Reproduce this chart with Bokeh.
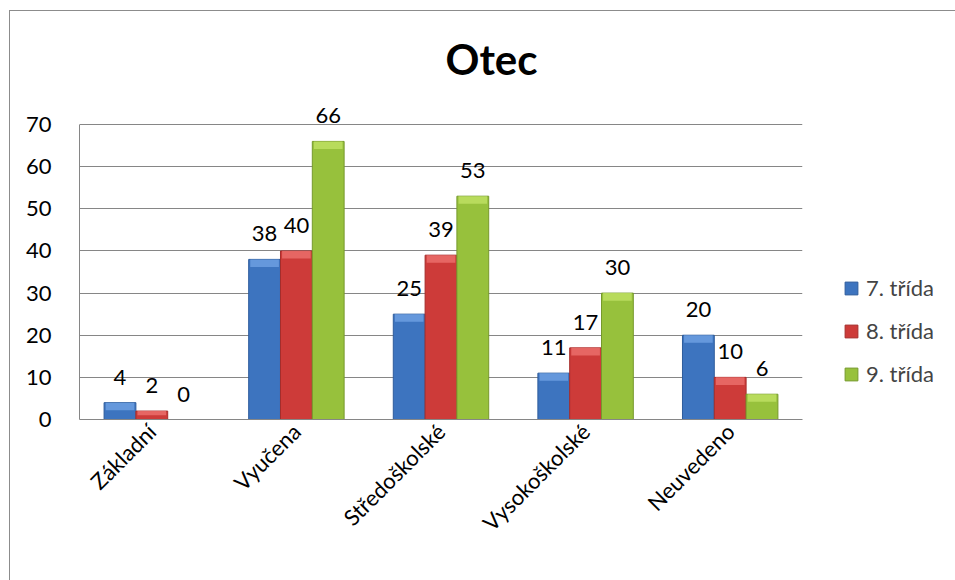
from bokeh.plotting import figure
from bokeh.models import ColumnDataSource, FactorRange, Range1d, SingleIntervalTicker, LabelSet, Legend, LegendItem, Title
from bokeh.core.properties import value
from bokeh.transform import dodge
from bokeh.embed import file_html
from bokeh.resources import INLINE
import math

categories = ["Základní", "Vyučena", "Středoškolské", "Vysokoškolské", "Neuvedeno"]
series_names = ["7. třída", "8. třída", "9. třída"]
tr7 = [4, 38, 25, 11, 20]
tr8 = [2, 40, 39, 17, 10]
tr9 = [0, 66, 53, 30, 6]
colors = ["#3d74bf", "#cd3b39", "#97c13c"]
cap_colors = ["#6c9fe0", "#ea6e6b", "#bddf62"]
edge_colors = ["#2e5c9c", "#a52d2b", "#76992c"]
FONT = "Lato"

data = dict(cat=categories)
for key, vals in (("t7", tr7), ("t8", tr8), ("t9", tr9)):
    data[key] = vals
    data["l" + key[1]] = [str(v) for v in vals]
    data["c" + key[1]] = [max(v - 1.8, v * 0.5) for v in vals]
src = ColumnDataSource(data)

p = figure(frame_width=723, frame_height=316, x_range=FactorRange(*categories, range_padding=0),
           y_range=Range1d(0, 75), output_backend="svg", toolbar_location=None,
           min_border_left=69, min_border_right=150, min_border_top=92, min_border_bottom=162)
p.margin = (10, 0, 0, 9)
p.styles = {"border-left": "1px solid #8c8c8c", "border-top": "1px solid #8c8c8c"}
p.outline_line_color = None
p.background_fill_color = "white"
p.border_fill_color = "white"

t = Title(text="Otec", align="left", offset=366, text_font=FONT, text_font_size="42px",
          text_font_style="bold", text_color="black", standoff=40)
p.add_layout(t, "above")

w = 0.22
offs = [-w, 0.0, w]
renderers = []
for i in range(3):
    k = str(7 + i)
    r = p.vbar(x=dodge("cat", offs[i], range=p.x_range), top="t" + k, width=w, source=src,
               fill_color=colors[i], line_color=edge_colors[i], line_width=1)
    renderers.append(r)
    p.vbar(x=dodge("cat", offs[i], range=p.x_range), top="t" + k, bottom="c" + k, width=w * 0.9,
           source=src, fill_color=cap_colors[i], line_color=None, fill_alpha=0.85)
    lab = LabelSet(x=dodge("cat", offs[i], range=p.x_range), y="t" + k, text="l" + k, source=src,
                   text_align="center", text_baseline="bottom", y_offset=18,
                   text_font=value(FONT), text_font_size="22px", text_color="black")
    p.add_layout(lab)

p.yaxis.ticker = SingleIntervalTicker(interval=10)
p.yaxis.bounds = (0, 70)
p.yaxis.major_tick_line_color = None
p.yaxis.minor_tick_line_color = None
p.yaxis.major_tick_out = 0
p.yaxis.major_label_standoff = 24
p.yaxis.axis_line_color = "#868686"
p.yaxis.major_label_text_font = FONT
p.yaxis.major_label_text_font_size = "22px"
p.yaxis.major_label_text_color = "black"

p.xaxis.major_tick_line_color = None
p.xaxis.major_tick_out = 0
p.xaxis.axis_line_color = "#868686"
p.xaxis.major_label_orientation = math.pi / 4
p.xaxis.major_label_standoff = 8
p.xaxis.major_label_text_font = FONT
p.xaxis.major_label_text_font_size = "22px"
p.xaxis.major_label_text_color = "black"

p.xgrid.grid_line_color = None
p.ygrid.grid_line_color = "#868686"
p.ygrid.grid_line_width = 1

legend = Legend(items=[LegendItem(label=series_names[i], renderers=[renderers[i]]) for i in range(3)],
                location=(41, 32), padding=0, margin=0, spacing=16, label_height=24,
                glyph_width=16, glyph_height=16, label_standoff=7, border_line_color=None,
                background_fill_alpha=0, label_text_font=FONT, label_text_font_size="22px")
p.add_layout(legend, "right")

open("out.html", "w").write(file_html(p, INLINE))
